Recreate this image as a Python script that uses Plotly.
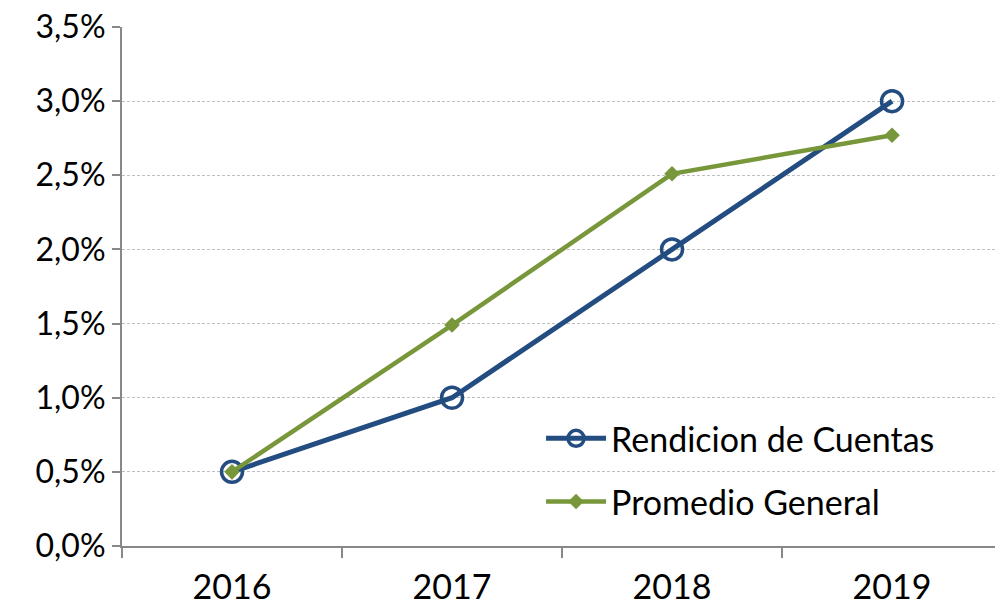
import plotly.graph_objects as go

years = ["2016", "2017", "2018", "2019"]
rendicion = [0.005, 0.010, 0.020, 0.030]
promedio = [0.005, 0.0149, 0.0251, 0.0277]
y_ticks = [0, 0.005, 0.01, 0.015, 0.02, 0.025, 0.03, 0.035]

blue = "#234C80"
green = "#77973A"
font = "Lato"
fs = 32

fig = go.Figure()
fig.add_trace(go.Scatter(
    x=years, y=rendicion, name="Rendicion de Cuentas", mode="lines+markers",
    legendgroup="a",
    line=dict(color=blue, width=5),
    marker=dict(symbol="circle-open", size=21, color=blue, line=dict(width=3.5, color=blue)),
))
fig.add_trace(go.Scatter(
    x=years, y=promedio, name="Promedio General", mode="lines+markers",
    legendgroup="b",
    line=dict(color=green, width=4.5),
    marker=dict(symbol="diamond", size=12, color=green),
))

fig.update_layout(
    width=995, height=608,
    margin=dict(l=122, r=0, t=27, b=62),
    paper_bgcolor="white", plot_bgcolor="white",
    separators=",.",
    font=dict(family=font, size=fs, color="black"),
    showlegend=True,
    legend=dict(x=0.48, y=0.146, xanchor="left", yanchor="middle",
                bgcolor="rgba(0,0,0,0)", font=dict(size=34, family=font),
                tracegroupgap=16, itemwidth=60),
    xaxis=dict(type="category", tickson="boundaries", ticks="outside", ticklen=10,
               tickcolor="#888888", tickwidth=2, showgrid=False,
               showline=True, linecolor="#888888", linewidth=2,
               range=[-0.5, 3.468], tickfont=dict(size=34, family=font),
               ticklabelstandoff=10, automargin=False),
    yaxis=dict(range=[0, 0.035], tickvals=y_ticks, tickformat=".1%",
               ticks="outside", ticklen=8, tickcolor="#888888", tickwidth=2,
               showline=True, linecolor="#888888", linewidth=2,
               showgrid=True, gridcolor="#BFBFBF", griddash="3px,2px", gridwidth=1,
               zeroline=False, tickfont=dict(size=fs, family=font), automargin=False),
)

fig.write_html("out.html", config={"displayModeBar": False},
               post_script="document.body.style.margin='0';document.body.style.overflow='hidden';")
